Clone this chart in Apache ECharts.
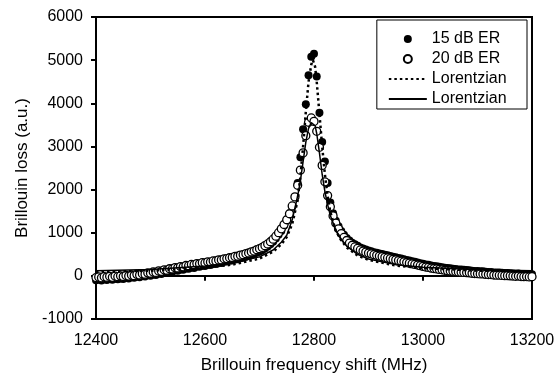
<!DOCTYPE html>
<html>
<head>
<meta charset="utf-8">
<script src="https://cdn.jsdelivr.net/npm/echarts@6/dist/echarts.min.js"></script>
<style>
  html, body { margin: 0; padding: 0; background: #fff; }
  #chart { width: 558px; height: 385px; }
</style>
</head>
<body>
<div id="chart"></div>
<script>
// measurement grid (MHz), 5 MHz steps
const freqs = [
  12400, 12405, 12410, 12415, 12420, 12425, 12430, 12435, 12440, 12445,
  12450, 12455, 12460, 12465, 12470, 12475, 12480, 12485, 12490, 12495,
  12500, 12505, 12510, 12515, 12520, 12525, 12530, 12535, 12540, 12545,
  12550, 12555, 12560, 12565, 12570, 12575, 12580, 12585, 12590, 12595,
  12600, 12605, 12610, 12615, 12620, 12625, 12630, 12635, 12640, 12645,
  12650, 12655, 12660, 12665, 12670, 12675, 12680, 12685, 12690, 12695,
  12700, 12705, 12710, 12715, 12720, 12725, 12730, 12735, 12740, 12745,
  12750, 12755, 12760, 12765, 12770, 12775, 12780, 12785, 12790, 12795,
  12800, 12805, 12810, 12815, 12820, 12825, 12830, 12835, 12840, 12845,
  12850, 12855, 12860, 12865, 12870, 12875, 12880, 12885, 12890, 12895,
  12900, 12905, 12910, 12915, 12920, 12925, 12930, 12935, 12940, 12945,
  12950, 12955, 12960, 12965, 12970, 12975, 12980, 12985, 12990, 12995,
  13000, 13005, 13010, 13015, 13020, 13025, 13030, 13035, 13040, 13045,
  13050, 13055, 13060, 13065, 13070, 13075, 13080, 13085, 13090, 13095,
  13100, 13105, 13110, 13115, 13120, 13125, 13130, 13135, 13140, 13145,
  13150, 13155, 13160, 13165, 13170, 13175, 13180, 13185, 13190, 13195,
  13200
];

// 15 dB ER (filled dots)
const er15 = [
  -100, -85, -105, -80, -95, -70, -90, -65, -80, -60,
  -70, -45, -60, -30, -45, -15, -30, 0, -15, 20,
  5, 30, 20, 55, 45, 80, 70, 105, 95, 130,
  120, 150, 140, 170, 165, 195, 185, 215, 210, 235,
  230, 255, 250, 275, 275, 300, 300, 325, 330, 350,
  355, 380, 385, 410, 420, 445, 460, 485, 505, 535,
  560, 595, 635, 680, 730, 790, 865, 950, 1040, 1160,
  1280, 1420, 1600, 1830, 2150, 2750, 3400, 3980, 4650, 5080,
  5150, 4620, 3780, 3100, 2650, 2150, 1700, 1450, 1280, 1150,
  1040, 950, 880, 820, 770, 730, 695, 660, 635, 610,
  590, 570, 550, 535, 520, 505, 490, 475, 460, 445,
  430, 415, 400, 385, 370, 355, 340, 325, 310, 295,
  280, 265, 255, 240, 230, 220, 210, 200, 190, 180,
  175, 165, 160, 150, 145, 140, 135, 130, 120, 115,
  110, 105, 105, 95, 90, 90, 80, 75, 75, 70,
  65, 65, 60, 55, 50, 55, 45, 40, 45, 35,
  40
];

// 20 dB ER (open circles)
const er20 = [
  -40, -25, -45, -20, -30, -10, -35, -5, -20, 0,
  -15, 10, -5, 20, 5, 35, 20, 50, 40, 70,
  60, 90, 80, 115, 105, 140, 130, 165, 160, 190,
  185, 215, 210, 240, 235, 265, 260, 285, 280, 305,
  300, 325, 320, 345, 345, 370, 370, 395, 400, 420,
  425, 450, 455, 480, 490, 515, 530, 555, 575, 605,
  630, 660, 700, 740, 790, 850, 920, 1000, 1090, 1190,
  1300, 1440, 1620, 1830, 2100, 2450, 2850, 3250, 3560, 3660,
  3580, 3350, 2980, 2560, 2180, 1860, 1600, 1390, 1220, 1090,
  980, 890, 820, 760, 710, 670, 635, 600, 575, 550,
  530, 510, 490, 475, 460, 445, 430, 415, 400, 385,
  370, 355, 340, 325, 310, 295, 280, 265, 250, 235,
  220, 205, 195, 180, 170, 160, 150, 140, 130, 120,
  115, 105, 100, 90, 85, 80, 75, 70, 60, 55,
  50, 45, 45, 35, 30, 30, 20, 15, 15, 10,
  5, 5, 0, -5, -10, -5, -15, -20, -15, -25,
  -20
];

// Lorentzian fit curves
const fitFreqs = [
  12400, 12500, 12600, 12650, 12700, 12725, 12740, 12750, 12760, 12770,
  12775, 12780, 12785, 12790, 12795, 12798, 12802, 12805, 12810, 12815,
  12820, 12825, 12830, 12840, 12850, 12860, 12880, 12900, 12950, 13000,
  13100, 13200
];
const fit15 = [
  90, 120, 190, 260, 400, 560, 730, 900, 1200, 1750,
  2300, 3000, 3800, 4500, 4900, 5000, 4850, 4500, 3750, 3000,
  2350, 1850, 1480, 1050, 820, 660, 470, 370, 240, 180,
  120, 100
];
const fit20 = [
  120, 150, 230, 300, 440, 600, 780, 940, 1300, 1850,
  2200, 2650, 3100, 3420, 3550, 3560, 3480, 3300, 2850, 2350,
  1950, 1650, 1400, 1060, 850, 690, 500, 390, 260, 200,
  140, 120
];

const xTicks = { min: 12400, max: 13200, interval: 200 };
const yTicks = { min: -1000, max: 6000, interval: 1000 };

const font = "Arial, 'Liberation Sans', sans-serif";
const chart = echarts.init(document.getElementById("chart"));

const option = {
  animation: false,
  backgroundColor: "#fff",
  grid: {
    left: 96,
    right: 26,
    top: 17,
    bottom: 66,
    show: true,
    borderColor: "#000",
    borderWidth: 2
  },
  legend: {
    orient: "vertical",
    right: 31,
    top: 20,
    padding: [11, 16, 2, 11],
    itemWidth: 38,
    itemHeight: 8,
    itemGap: 4,
    borderColor: "#000",
    borderWidth: 1,
    backgroundColor: "#fff",
    textStyle: { fontFamily: font, fontSize: 16, lineHeight: 16, color: "#000" },
    data: ["15 dB ER", "20 dB ER", "Lorentzian", "Lorentzian "]
  },
  xAxis: {
    type: "value",
    min: xTicks.min,
    max: xTicks.max,
    interval: xTicks.interval,
    name: "Brillouin frequency shift (MHz)",
    nameLocation: "middle",
    nameGap: 38,
    nameTextStyle: { fontFamily: font, fontSize: 17, color: "#000" },
    axisLine: { lineStyle: { color: "#000", width: 2 } },
    axisTick: { inside: false, length: 5, lineStyle: { color: "#000", width: 2 } },
    axisLabel: {
      fontFamily: font, fontSize: 16, color: "#000", margin: 14,
      formatter: (v) => String(v)
    },
    splitLine: { show: false }
  },
  yAxis: {
    type: "value",
    min: yTicks.min,
    max: yTicks.max,
    interval: yTicks.interval,
    name: "Brillouin loss (a.u.)",
    nameLocation: "middle",
    nameGap: 65,
    nameTextStyle: { fontFamily: font, fontSize: 17, color: "#000" },
    axisLine: { lineStyle: { color: "#000", width: 2 } },
    axisTick: { inside: false, length: 5, lineStyle: { color: "#000", width: 2 } },
    axisLabel: {
      fontFamily: font, fontSize: 16, color: "#000", margin: 13,
      formatter: (v) => String(v)
    },
    splitLine: { show: false }
  },
  series: [
    {
      name: "15 dB ER",
      type: "scatter",
      symbol: "circle",
      symbolSize: 8,
      itemStyle: { color: "#000", opacity: 1 },
      data: freqs.map((f, i) => [f, er15[i]]),
      z: 2
    },
    {
      name: "20 dB ER",
      type: "scatter",
      symbol: "circle",
      symbolSize: 8,
      itemStyle: { color: "#fff", borderColor: "#000", borderWidth: 1.3, opacity: 1 },
      data: freqs.map((f, i) => [f, er20[i]]),
      z: 3
    },
    {
      name: "Lorentzian",
      type: "line",
      symbol: "none",
      itemStyle: { color: "#000", opacity: 0 },
      lineStyle: { color: "#000", width: 2.5, type: [2.5, 3], opacity: 1 },
      data: fitFreqs.map((f, i) => [f, fit15[i]]),
      z: 4
    },
    {
      name: "Lorentzian ",
      type: "line",
      symbol: "none",
      itemStyle: { color: "#000", opacity: 0 },
      lineStyle: { color: "#000", width: 1.5, type: "solid", opacity: 1 },
      data: fitFreqs.map((f, i) => [f, fit20[i]]),
      z: 5
    }
  ]
};

chart.setOption(option);
</script>
</body>
</html>
